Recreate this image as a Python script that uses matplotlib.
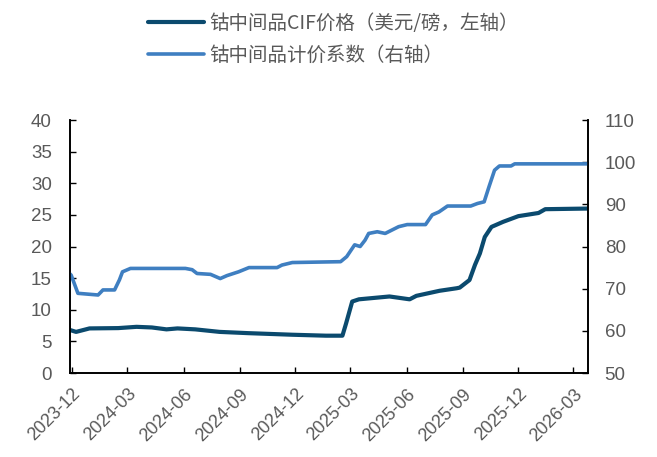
import pandas as pd
import matplotlib.pyplot as plt
import matplotlib.dates as mdates

plt.rcParams['font.family'] = ['Liberation Sans', 'Noto Sans CJK SC', 'DejaVu Sans']

# 钴中间品CIF价格（美元/磅，左轴）
cif_dates = ['2023-11-28', '2023-12-08', '2023-12-20', '2023-12-30', '2024-02-15', '2024-03-16',
             '2024-04-10', '2024-05-04', '2024-05-22', '2024-06-20', '2024-07-30', '2024-09-15',
             '2024-11-26', '2025-01-20', '2025-02-16', '2025-02-22', '2025-03-04', '2025-03-15',
             '2025-05-04', '2025-06-06', '2025-06-17', '2025-07-25', '2025-08-22', '2025-08-27',
             '2025-09-12', '2025-09-21', '2025-09-29', '2025-10-07', '2025-10-18', '2025-11-06',
             '2025-12-01', '2026-01-03', '2026-01-14', '2026-03-24']
cif_price = [6.8, 6.5, 6.8, 7.05, 7.1, 7.3,
             7.2, 6.9, 7.05, 6.9, 6.5, 6.3,
             6.05, 5.9, 5.9, 7.85, 11.3, 11.65,
             12.1, 11.65, 12.2, 13.0, 13.4, 13.5,
             14.7, 17.1, 18.9, 21.5, 23.1, 23.9,
             24.8, 25.3, 25.9, 26.0]

# 钴中间品计价系数（右轴）
coef_dates = ['2023-11-28', '2023-11-30', '2023-12-11', '2024-01-13', '2024-01-21', '2024-02-09',
              '2024-02-17', '2024-02-22', '2024-03-06', '2024-06-04', '2024-06-15', '2024-06-23',
              '2024-07-15', '2024-07-31', '2024-08-11', '2024-08-30', '2024-09-16', '2024-11-01',
              '2024-11-09', '2024-11-26', '2025-02-13', '2025-02-23', '2025-03-08', '2025-03-17',
              '2025-03-25', '2025-03-31', '2025-04-14', '2025-04-27', '2025-05-19', '2025-06-02',
              '2025-07-02', '2025-07-13', '2025-07-24', '2025-08-07', '2025-09-14', '2025-09-25',
              '2025-10-06', '2025-10-14', '2025-10-23', '2025-10-31', '2025-11-19', '2025-11-25',
              '2026-03-24']
coef_value = [73.5, 73.2, 68.9, 68.5, 69.7, 69.7,
              72.1, 74.0, 74.8, 74.8, 74.5, 73.6,
              73.4, 72.4, 73.1, 74.0, 75.0, 75.0,
              75.6, 76.2, 76.4, 77.6, 80.4, 80.0,
              81.5, 83.1, 83.5, 83.1, 84.7, 85.2,
              85.2, 87.5, 88.2, 89.6, 89.6, 90.2,
              90.6, 94.2, 98.1, 99.1, 99.1, 99.6,
              99.6]

left_ticks = [0, 5, 10, 15, 20, 25, 30, 35, 40]
right_ticks = [50, 60, 70, 80, 90, 100, 110]

dark = '#0B4A6E'
light = '#3F7FC1'
grey = '#595959'

fig = plt.figure(figsize=(6.57, 4.57), dpi=100)
ax = fig.add_axes([0.1065, 0.1838, 0.7885, 0.5536])
ax2 = ax.twinx()

l1, = ax.plot(pd.to_datetime(cif_dates), cif_price, color=dark, lw=3.0,
              solid_capstyle='round', label='钴中间品CIF价格（美元/磅，左轴）')
l2, = ax2.plot(pd.to_datetime(coef_dates), coef_value, color=light, lw=2.6,
               solid_capstyle='round', label='钴中间品计价系数（右轴）')

ax.set_ylim(0, 40)
ax.set_yticks(left_ticks)
ax2.set_ylim(50, 110)
ax2.set_yticks(right_ticks)
ax.set_xlim(pd.Timestamp('2023-11-28'), pd.Timestamp('2026-03-25'))
ax.xaxis.set_major_locator(mdates.MonthLocator(bymonth=[3, 6, 9, 12]))
ax.xaxis.set_major_formatter(mdates.DateFormatter('%Y-%m'))

for a in (ax, ax2):
    a.tick_params(direction='in', length=4, width=1, colors='black', labelcolor=grey, labelsize=13.5)
    for s in a.spines.values():
        s.set_color('black')
        s.set_linewidth(1.2)
    a.spines['top'].set_visible(False)
ax.tick_params(axis='y', pad=13)
ax2.tick_params(axis='y', pad=12)
ax.tick_params(axis='x', labelsize=13, pad=9)
for lab in ax.get_xticklabels():
    lab.set_rotation(45)
    lab.set_ha('right')
    lab.set_rotation_mode('anchor')

fig.legend(handles=[l1, l2], loc='upper left', bbox_to_anchor=(0.198, 1.01), frameon=False,
           prop={'family': ['Noto Sans CJK SC', 'DejaVu Sans'], 'size': 14},
           labelcolor=grey, handlelength=2.9, labelspacing=0.55, handletextpad=0.25)

fig.savefig('out.png', dpi=100)
